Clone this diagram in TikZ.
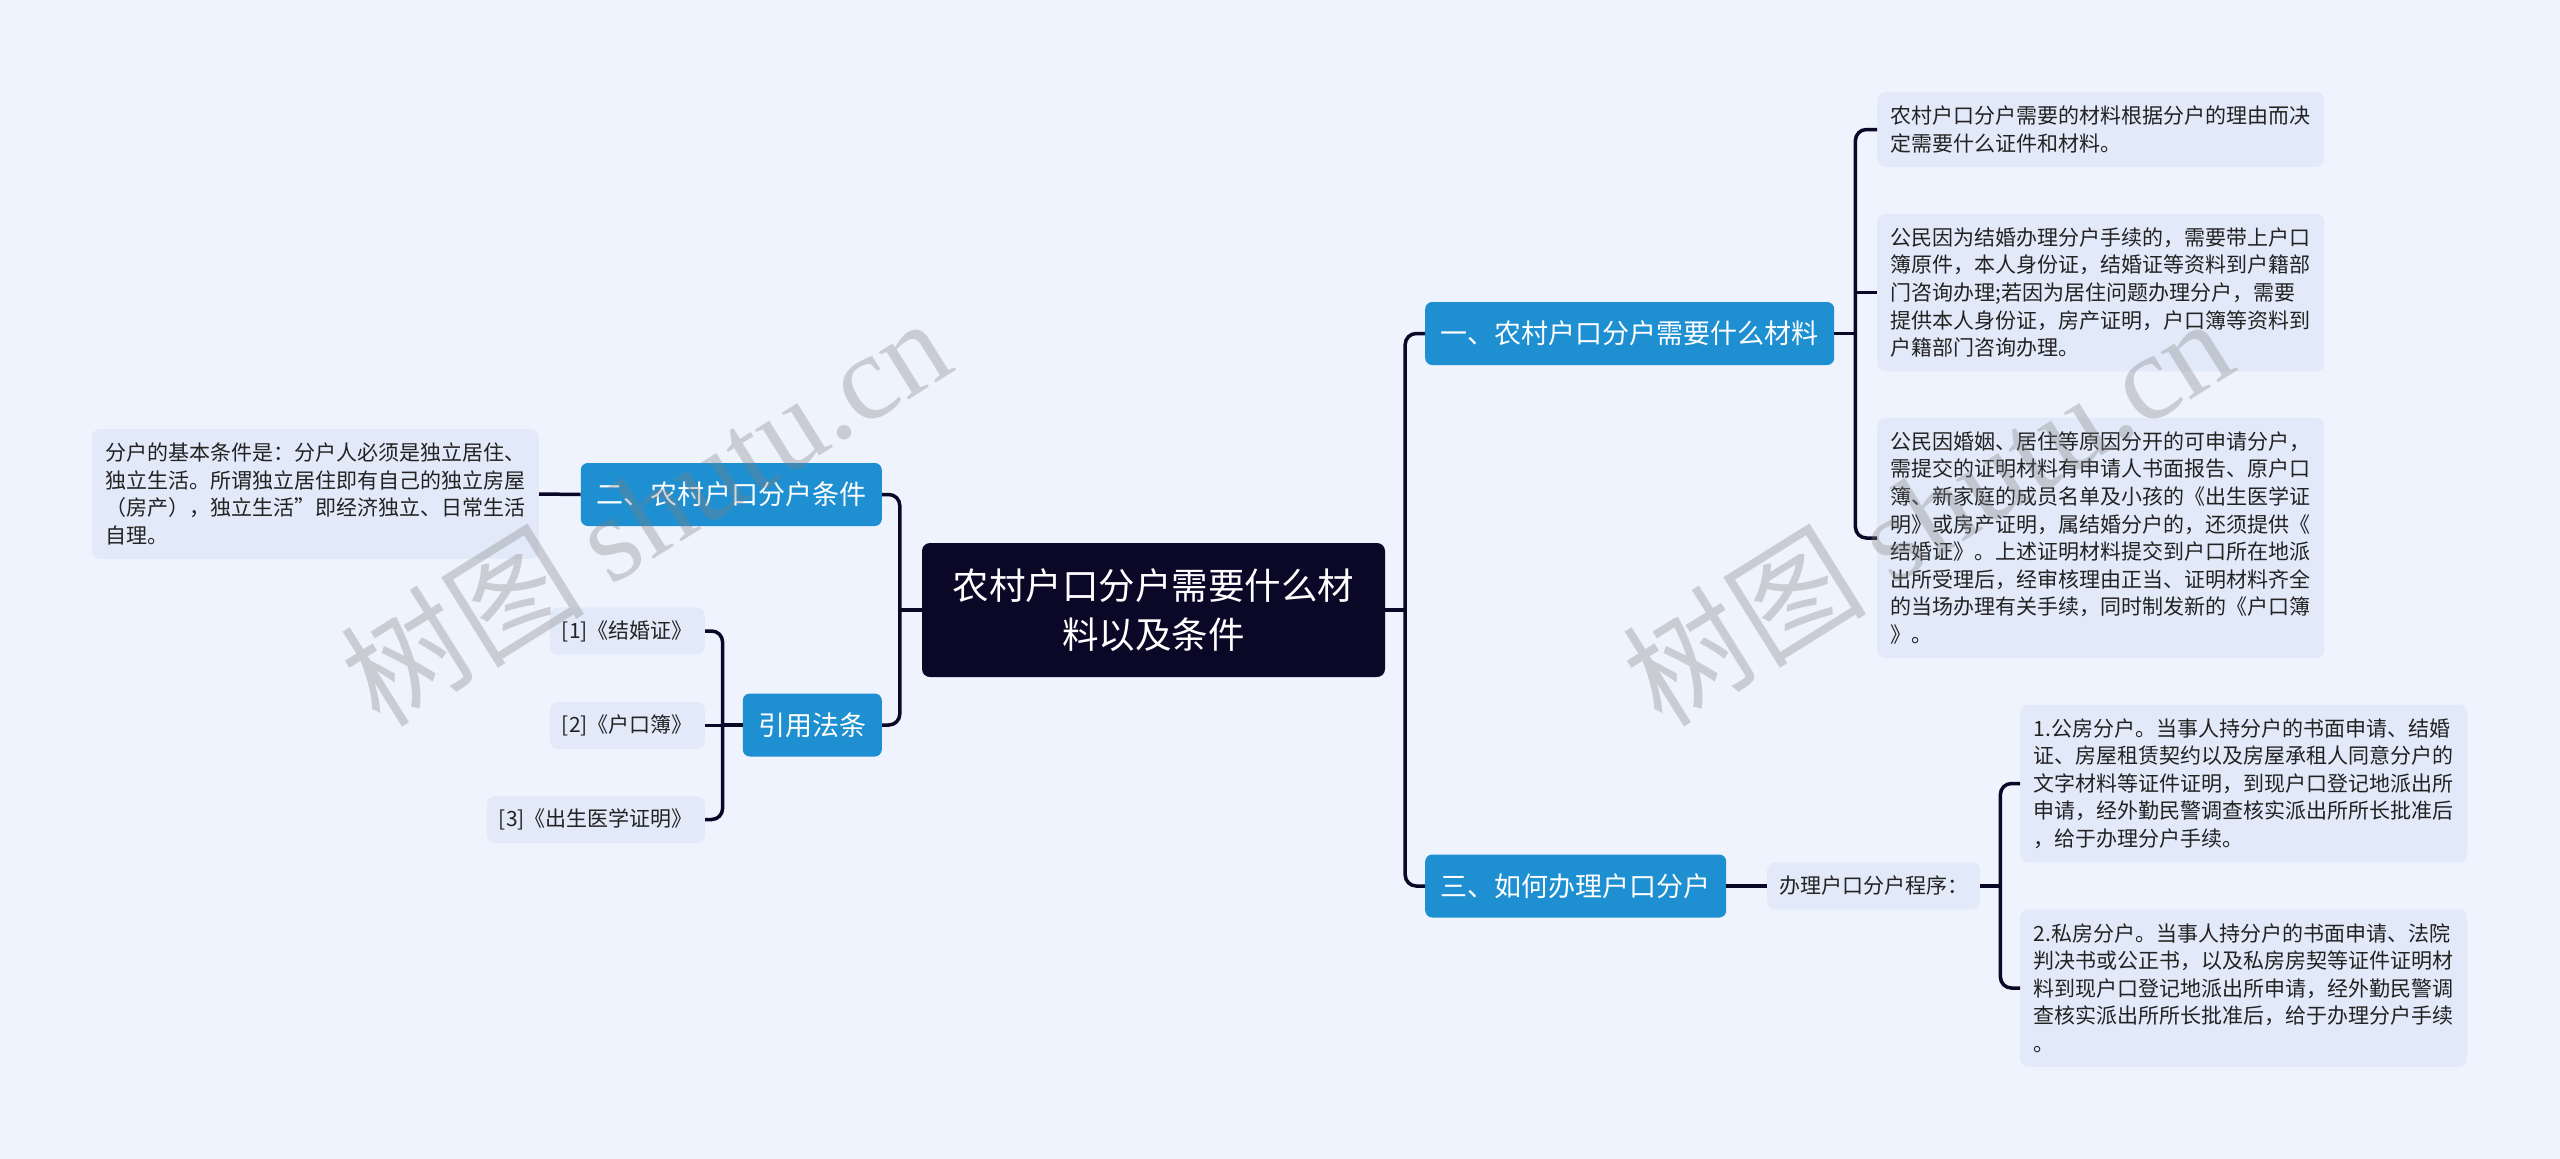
\documentclass[tikz,border=0pt]{standalone}
\usepackage{fontspec}
\setmainfont{Noto Sans CJK SC}
\newfontfamily\wmserif{Liberation Serif}
\usetikzlibrary{calc}
\definecolor{bgc}{HTML}{EEF3FD}
\definecolor{rootc}{HTML}{0B0726}
\definecolor{brc}{HTML}{1E8FD0}
\definecolor{leafc}{HTML}{E2EAFA}
\definecolor{linec}{HTML}{0B0726}
\definecolor{leaftext}{HTML}{222222}
\begin{document}
\begin{tikzpicture}[x=1pt,y=-1pt,
  rootbox/.style={fill=rootc, text=white, rounded corners=8pt, minimum width=463pt, minimum height=134pt, align=center, inner sep=0pt, font=\fontsize{36.5}{49}\selectfont},
  brbox/.style={fill=brc, text=white, rounded corners=7pt, minimum height=63pt, inner xsep=15.5pt, inner ysep=0pt, font=\fontsize{27}{32}\selectfont},
  leafbox/.style={fill=leafc, text=leaftext, rounded corners=8pt, inner xsep=12pt, inner ysep=0pt, align=left, font=\fontsize{21}{27.6}\selectfont},
  conn/.style={draw=linec, line width=3.5pt, rounded corners=11pt},
  wm/.style={rotate=32, text=gray, opacity=0.33, font=\fontsize{122}{122}\selectfont}
]
\useasboundingbox (0,0) rectangle (2560,1159);
\fill[bgc] (0,0) rectangle (2560,1159);

% root and branches
\node[rootbox] (root) at (1153.5,610) {农村户口分户需要什么材\\料以及条件};
\node[brbox, anchor=west] (b1) at (1425,333.5) {一、农村户口分户需要什么材料};
\node[brbox, anchor=west] (b3) at (1425,886) {三、如何办理户口分户};
\node[brbox, anchor=east] (b2) at (882,494.5) {二、农村户口分户条件};
\node[brbox, anchor=east] (cite) at (882,725) {引用法条};

% left leaves
\node[leafbox, anchor=east, minimum width=447pt, minimum height=129.9pt] (lf) at (539,494) {分户的基本条件是：分户人必须是独立居住、\\独立生活。所谓独立居住即有自己的独立房屋\\（房产），独立生活”即经济独立、日常生活\\自理。};
\node[leafbox, anchor=east, minimum height=47.1pt] (c1) at (705,631) {[1]《结婚证》};
\node[leafbox, anchor=east, minimum height=47.1pt] (c2) at (705,725.5) {[2]《户口簿》};
\node[leafbox, anchor=east, minimum height=47.1pt] (c3) at (705,819.5) {[3]《出生医学证明》};

% right leaves
\node[leafbox, anchor=west, minimum width=447pt, minimum height=74.7pt] (r1) at (1877,129.5) {农村户口分户需要的材料根据分户的理由而决\\定需要什么证件和材料。};
\node[leafbox, anchor=west, minimum width=447pt, minimum height=157.5pt] (r2) at (1877,292.5) {公民因为结婚办理分户手续的，需要带上户口\\簿原件，本人身份证，结婚证等资料到户籍部\\门咨询办理;若因为居住问题办理分户，需要\\提供本人身份证，房产证明，户口簿等资料到\\户籍部门咨询办理。};
\node[leafbox, anchor=west, minimum width=447pt, minimum height=240.3pt] (r3) at (1877,538) {公民因婚姻、居住等原因分开的可申请分户，\\需提交的证明材料有申请人书面报告、原户口\\簿、新家庭的成员名单及小孩的《出生医学证\\明》或房产证明，属结婚分户的，还须提供《\\结婚证》。上述证明材料提交到户口所在地派\\出所受理后，经审核理由正当、证明材料齐全\\的当场办理有关手续，同时制发新的《户口簿\\》。};
\node[leafbox, anchor=west, minimum height=47.1pt] (prog) at (1767,886) {办理户口分户程序：};
\node[leafbox, anchor=west, minimum width=447pt, minimum height=157.5pt] (l1) at (2020,783.5) {1.公房分户。当事人持分户的书面申请、结婚\\证、房屋租赁契约以及房屋承租人同意分户的\\文字材料等证件证明，到现户口登记地派出所\\申请，经外勤民警调查核实派出所所长批准后\\，给于办理分户手续。};
\node[leafbox, anchor=west, minimum width=447pt, minimum height=157.5pt] (l2) at (2020,988) {2.私房分户。当事人持分户的书面申请、法院\\判决书或公正书，以及私房房契等证件证明材\\料到现户口登记地派出所申请，经外勤民警调\\查核实派出所所长批准后，给于办理分户手续\\。};

% junction coordinates
\coordinate (rt) at ([xshift=20pt]root.east);
\coordinate (lt) at ([xshift=-22pt]root.west);
\coordinate (t1) at ([xshift=21pt]b1.east);
\coordinate (ct) at ([xshift=-20pt]cite.west);
\coordinate (t3) at ([xshift=20pt]prog.east);

% connectors
\draw[conn] (root.east) -- (rt);
\draw[conn] (b1.west) -| (rt) |- (b3.west);
\draw[conn] (root.west) -- (lt);
\draw[conn] (b2.east) -| (lt) |- (cite.east);
\draw[conn] (b2.west) -- (lf.east);
\draw[conn] (cite.west) -- (ct);
\draw[conn] (c1.east) -| (ct) |- (c3.east);
\draw[conn] (c2.east) -- (c2.east -| ct);
\draw[conn] (b1.east) -- (t1);
\draw[conn] (r1.west) -| (t1) |- (r3.west);
\draw[conn] (r2.west) -- (r2.west -| t1);
\draw[conn] (b3.east) -- (prog.west);
\draw[conn] (prog.east) -- (t3);
\draw[conn] (l1.west) -| (t3) |- (l2.west);

% watermarks
\node[wm] (wm1) at (645,510) {树图 {\wmserif shutu.cn}};
\node[wm] (wm2) at (1927,510) {树图 {\wmserif shutu.cn}};
\end{tikzpicture}
\end{document}
